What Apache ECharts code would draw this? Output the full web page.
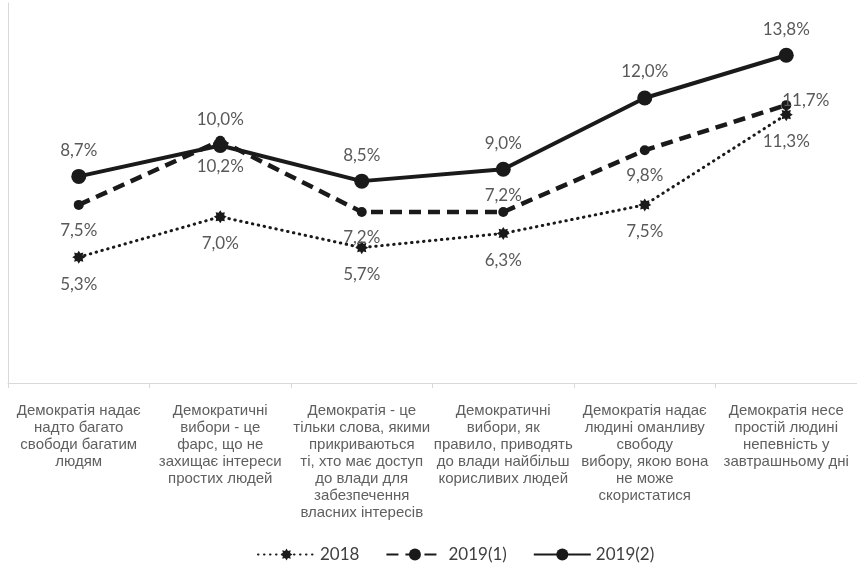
<!DOCTYPE html>
<html>
<head>
<meta charset="utf-8">
<script src="https://cdn.jsdelivr.net/npm/echarts@6/dist/echarts.min.js"></script>
<style>
  html, body { margin: 0; padding: 0; background: #fff; }
  #chart { width: 857px; height: 568px; }
</style>
</head>
<body>
<div id="chart"></div>
<script>
const categories = [
  "Демократія надає\nнадто багато\nсвободи багатим\nлюдям",
  "Демократичні\nвибори - це\nфарс, що не\nзахищає інтереси\nпростих людей",
  "Демократія - це\nтільки слова, якими\nприкриваються\nті, хто має доступ\nдо влади для\nзабезпечення\nвласних інтересів",
  "Демократичні\nвибори, як\nправило, приводять\nдо влади найбільш\nкорисливих людей",
  "Демократія надає\nлюдині оманливу\nсвободу\nвибору, якою вона\nне може\nскористатися",
  "Демократія несе\nпростій людині\nнепевність у\nзавтрашньому дні",
];
const seriesNames = ["2018", "2019(1)", "2019(2)"];
const values2018 = [5.3, 7.0, 5.7, 6.3, 7.5, 11.3];
const values2019a = [7.5, 10.2, 7.2, 7.2, 9.8, 11.7];
const values2019b = [8.7, 10.0, 8.5, 9.0, 12.0, 13.8];

// 8-point burst marker for 2018
let star = "path://";
for (let i = 0; i < 16; i++) {
  const r = i % 2 === 0 ? 10 : 6.5;
  const a = (Math.PI / 8) * i;
  star += (i === 0 ? "M" : "L") + (10 + r * Math.cos(a)).toFixed(2) + "," + (10 + r * Math.sin(a)).toFixed(2);
}
star += "Z";

const lineColor = "#1a1a1a";
const labelStyle = {
  show: true,
  color: "#595959",
  fontSize: 17,
  fontFamily: "Lato",
  formatter: (p) => p.value.toFixed(1).replace(".", ",") + "%",
};

const chart = echarts.init(document.getElementById("chart"));
chart.setOption({
  animation: false,
  grid: { left: 8, top: 3, width: 855, height: 380 },
  legend: {
    top: 541,
    left: 252,
    itemWidth: 57,
    itemHeight: 15,
    itemGap: 26,
    textStyle: { color: "#404040", fontSize: 17, fontFamily: "Lato" },
    data: seriesNames,
  },
  xAxis: {
    type: "category",
    data: categories,
    axisLine: { lineStyle: { color: "#d9d9d9", width: 1 } },
    axisTick: { show: true, length: 5, lineStyle: { color: "#d9d9d9" } },
    axisLabel: {
      interval: 0,
      color: "#5f5f5f",
      fontSize: 15,
      lineHeight: 17,
      fontFamily: "Liberation Sans",
      margin: 19,
      align: "center",
    },
  },
  yAxis: {
    type: "value",
    min: 0,
    max: 16,
    axisLine: { show: true, lineStyle: { color: "#d9d9d9" } },
    axisTick: { show: false },
    axisLabel: { show: false },
    splitLine: { show: false },
  },
  series: [
    {
      name: seriesNames[0],
      type: "line",
      data: values2018,
      symbol: star,
      symbolSize: 13,
      itemStyle: { color: lineColor },
      lineStyle: { color: lineColor, width: 3, type: [0.5, 5.5], cap: "round" },
      label: Object.assign({}, labelStyle, { position: "bottom", distance: 12 }),
      z: 3,
    },
    {
      name: seriesNames[1],
      type: "line",
      data: values2019a.map((v, i) => {
        if (i === 3) return { value: v, label: { position: "top", distance: 3 } };
        if (i === 5) return { value: v, label: { position: "right", distance: 5, offset: [-14, -5] } };
        return v;
      }),
      symbol: "circle",
      symbolSize: 10,
      itemStyle: { color: lineColor },
      lineStyle: { color: lineColor, width: 4.5, type: [12, 7] },
      label: Object.assign({}, labelStyle, { position: "bottom", distance: 12 }),
      z: 4,
    },
    {
      name: seriesNames[2],
      type: "line",
      data: values2019b,
      symbol: "circle",
      symbolSize: 15,
      itemStyle: { color: lineColor },
      lineStyle: { color: lineColor, width: 4 },
      label: Object.assign({}, labelStyle, { position: "top", distance: 10 }),
      z: 5,
    },
  ],
});
</script>
</body>
</html>
